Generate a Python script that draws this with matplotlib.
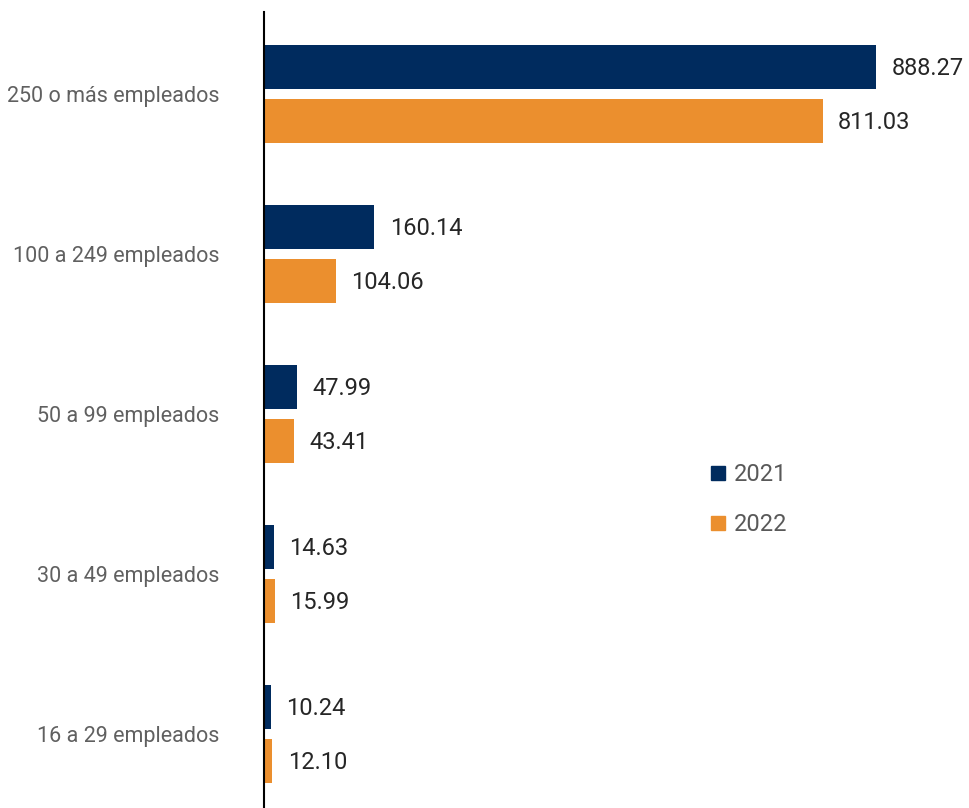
import numpy as np
import matplotlib.pyplot as plt
from matplotlib.lines import Line2D

categories = ["250 o más empleados", "100 a 249 empleados", "50 a 99 empleados",
              "30 a 49 empleados", "16 a 29 empleados"]
values_2021 = [888.27, 160.14, 47.99, 14.63, 10.24]
values_2022 = [811.03, 104.06, 43.41, 15.99, 12.10]

navy = "#002B5E"
orange = "#EB8F2E"

plt.rcParams['font.family'] = ['Roboto', 'DejaVu Sans']

fig = plt.figure(figsize=(9.69, 8.08), dpi=100)
ax = fig.add_axes([264 / 969, 0, 1 - 264 / 969, 1 - 12 / 808])

y = np.arange(len(categories))
h = 0.275
off = 0.169
b1 = ax.barh(y - off, values_2021, height=h, color=navy, label="2021")
b2 = ax.barh(y + off, values_2022, height=h, color=orange, label="2022")

for bars, vals in ((b1, values_2021), (b2, values_2022)):
    for bar, v in zip(bars, vals):
        ax.annotate(f"{v:.2f}", (bar.get_width(), bar.get_y() + bar.get_height() / 2),
                    xytext=(11, -1), textcoords="offset points", va="center", ha="left",
                    fontsize=17, color="#262626")

ax.set_xlim(0, 705 / 0.689)
ax.set_ylim(len(categories) - 1 + 0.4625, -0.5125)
ax.set_yticks(y)
ax.set_yticklabels(categories, fontsize=15.5, color="#606060")
ax.tick_params(axis="y", length=0, pad=32)
ax.set_xticks([])
for s in ("top", "right", "bottom"):
    ax.spines[s].set_visible(False)
ax.spines["left"].set_linewidth(1.5)
ax.spines["left"].set_color("black")

handles = [Line2D([], [], marker="s", linestyle="", color=navy, markersize=10),
           Line2D([], [], marker="s", linestyle="", color=orange, markersize=10)]
leg = fig.legend(handles, ["2021", "2022"], loc="upper left",
                 bbox_to_anchor=(683 / 969, 1 - 442 / 808), frameon=False,
                 fontsize=17, labelspacing=1.15, handletextpad=0.05, handlelength=1.2)
for t in leg.get_texts():
    t.set_color("#595959")

fig.savefig("out.png", dpi=100)
